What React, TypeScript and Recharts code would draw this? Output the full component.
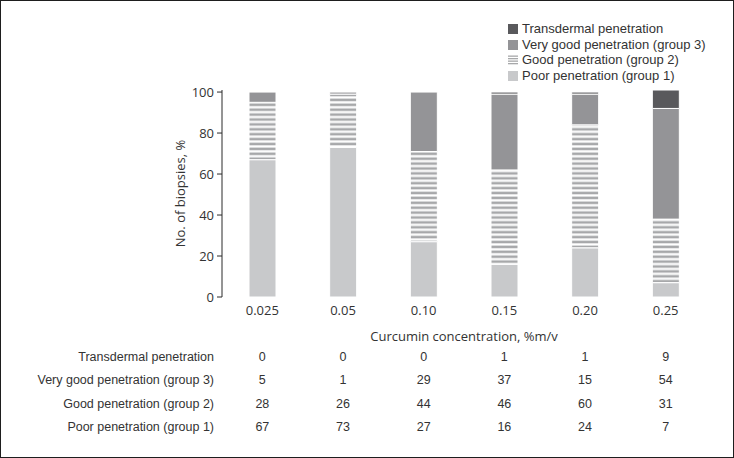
import { BarChart, Bar, XAxis, YAxis } from 'recharts';

// concentrations (%m/v) and biopsy counts per penetration group
const concentrations = ['0.025', '0.05', '0.10', '0.15', '0.20', '0.25'];
const transdermal = [0, 0, 0, 1, 1, 9];
const veryGood = [5, 1, 29, 37, 15, 54];
const good = [28, 26, 44, 46, 60, 31];
const poor = [67, 73, 27, 16, 24, 7];
const yTicks = [0, 20, 40, 60, 80, 100];
const boundaryTicks = [1, 2, 3, 4, 5, 6];

const series = [
  { key: 'transdermal', name: 'Transdermal penetration', values: transdermal, fill: '#59595c' },
  { key: 'veryGood', name: 'Very good penetration (group 3)', values: veryGood, fill: '#949497' },
  { key: 'good', name: 'Good penetration (group 2)', values: good, fill: 'url(#stripes)' },
  { key: 'poor', name: 'Poor penetration (group 1)', values: poor, fill: '#c8c9cb' },
];

const data = concentrations.map((c, i) => ({
  conc: c,
  poor: poor[i],
  good: good[i],
  veryGood: veryGood[i],
  transdermal: transdermal[i],
}));

const font = '"Open Sans", sans-serif';
const textFont = '"Liberation Sans", Arial, sans-serif';
const textColor = '#333';
const axisColor = '#2a2a2a';

function LegendSwatch({ fill }: { fill: string }) {
  if (fill.startsWith('url')) {
    return (
      <svg width={10} height={10} style={{ display: 'block' }}>
        {[0, 2.5, 5, 7.5].map((y) => (
          <rect key={y} x={0} y={y + 0.5} width={10} height={1.3} fill="#a7a8aa" />
        ))}
      </svg>
    );
  }
  return <div style={{ width: 10, height: 10, background: fill }} />;
}

export default function App() {
  const plotLeft = 222;
  const colWidth = 80.67;
  return (
    <div
      style={{
        position: 'absolute',
        left: 0,
        top: 0,
        width: 734,
        height: 458,
        boxSizing: 'border-box',
        border: '1px solid #1e1e1e',
        background: '#fff',
        fontFamily: font,
        color: textColor,
        overflow: 'hidden',
      }}
    >
      <div style={{ position: 'absolute', left: -1, top: -1 }}>
        <BarChart
          width={734}
          height={458}
          data={data}
          margin={{ top: 90, right: 28, bottom: 117, left: 162 }}
          barSize={27}
        >
          <defs>
            <pattern id="stripes" patternUnits="userSpaceOnUse" width={10} height={4.9}>
              <rect x={0} y={0} width={10} height={4.9} fill="#fff" />
              <rect x={0} y={0.6} width={10} height={2.6} fill="#a7a8aa" />
            </pattern>
          </defs>
          <XAxis
            xAxisId="edges"
            type="number"
            domain={[0, 6]}
            ticks={boundaryTicks}
            height={0}
            tick={() => null}
            tickSize={5}
            stroke={axisColor}
            axisLine={{ stroke: axisColor }}
            allowDataOverflow
          />
          <XAxis
            xAxisId="cat"
            dataKey="conc"
            height={44}
            axisLine={false}
            tickLine={false}
            tickSize={6}
            tickMargin={3}
            tick={{ fill: textColor, fontSize: 13, fontFamily: font }}
            label={{
              value: 'Curcumin concentration, %m/v',
              position: 'insideBottom',
              offset: 0,
              fill: textColor,
              fontSize: 13,
              fontFamily: font,
            }}
          />
          <YAxis
            width={60}
            domain={[0, 100]}
            ticks={yTicks}
            tickSize={5}
            tickMargin={3}
            stroke={axisColor}
            tick={{ fill: textColor, fontSize: 13, fontFamily: font }}
            label={{
              value: 'No. of biopsies, %',
              angle: -90,
              position: 'insideLeft',
              offset: 18,
              fill: textColor,
              fontSize: 13,
              fontFamily: font,
              style: { textAnchor: 'middle' },
            }}
          />
          {[...series].reverse().map((s) => (
            <Bar
              key={s.key}
              xAxisId="cat"
              dataKey={s.key}
              name={s.name}
              stackId="a"
              fill={s.fill}
              stroke="#fff"
              strokeWidth={1}
              isAnimationActive={false}
            />
          ))}
        </BarChart>
      </div>

      {/* legend */}
      <div
        style={{
          position: 'absolute',
          left: 507,
          top: 20,
          fontSize: 13,
          lineHeight: '15.7px',
          fontFamily: textFont,
        }}
      >
        {series.map((s) => (
          <div key={s.key} style={{ display: 'flex', alignItems: 'center', gap: 4 }}>
            <LegendSwatch fill={s.fill} />
            <span>{s.name}</span>
          </div>
        ))}
      </div>

      {/* data table */}
      {series.map((s, r) => (
        <div
          key={s.key}
          style={{
            position: 'absolute',
            top: 347 + r * 23.3 - 1,
            left: 0,
            height: 20,
            fontSize: 12.5,
            lineHeight: '20px',
            fontFamily: textFont,
          }}
        >
          <div style={{ position: 'absolute', right: -213, width: 210, textAlign: 'right', whiteSpace: 'nowrap' }}>
            {s.name}
          </div>
          {s.values.map((v, i) => (
            <div
              key={i}
              style={{
                position: 'absolute',
                left: plotLeft - 1 + i * colWidth,
                width: colWidth,
                textAlign: 'center',
              }}
            >
              {v}
            </div>
          ))}
        </div>
      ))}
    </div>
  );
}
